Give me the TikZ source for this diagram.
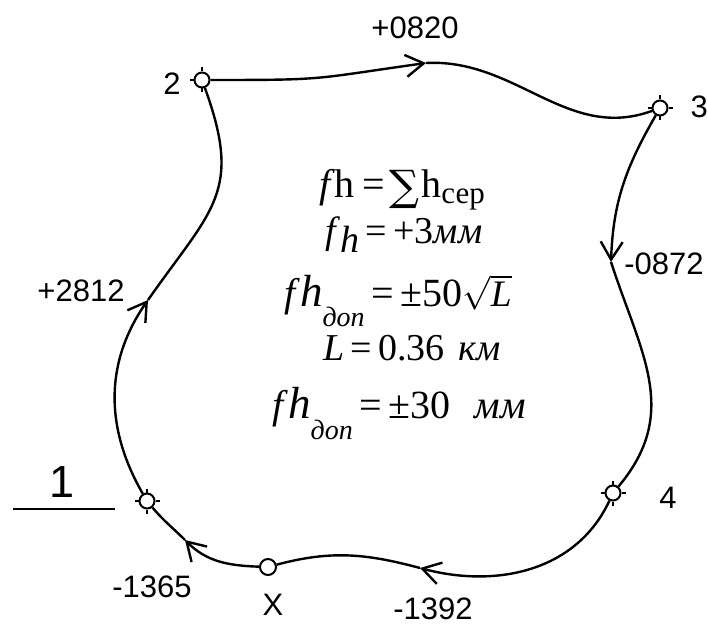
\documentclass[tikz,border=0pt]{standalone}
\usepackage{fontspec}
\setmainfont{Liberation Serif}
\newfontfamily\labfont{Liberation Sans}
\newfontfamily\sumfont{DejaVu Serif}
\usetikzlibrary{positioning, arrows.meta, calc}
\newcommand\lowsub[3][-7pt]{\raisebox{#1}{\fontsize{#2}{#2}\selectfont\itshape #3}}
\newcommand\ftop{\textit{f}}
\newcommand\bigh{{\fontsize{45}{45}\selectfont\itshape h}}
\newcommand\sumsign{\raisebox{-3pt}{\sumfont\fontsize{42}{42}\selectfont ∑}}
\newcommand\rootL{\scalebox{3.4}{\fontsize{10}{10}\selectfont$\sqrt{\mbox{\fontsize{11}{11}\selectfont\itshape L}}$}}
\tikzset{
  bench/.style = {circle, draw, line width=2pt, fill=white, minimum size=15pt, inner sep=0pt},
  tie/.style   = {circle, draw, line width=2pt, fill=white, minimum size=16pt, inner sep=0pt},
  leg/.style   = {line width=2.4pt},
  barb/.style  = {leg, -{Straight Barb[length=18pt, width=22pt]}},
  num/.style   = {font=\labfont\fontsize{31}{31}\selectfont, inner sep=0pt, anchor=base},
  fml/.style   = {font=\fontsize{38}{38}\selectfont, inner sep=0pt, anchor=base},
}

\begin{document}
\begin{tikzpicture}[x=1pt, y=1pt]
\useasboundingbox (0,0) rectangle (708,626);

% Stations
\node (s1) [bench] at (147,125) {};
\node (s2) [bench] at (202,546) {};
\node (s3) [bench] at (660,518) {};
\node (s4) [bench] at (613,133) {};
\node (sx) [tie]   at (268,59)  {};

% Points where the arrowheads sit
\coordinate (a23) at (426,563);
\coordinate (a34) at (611,364);
\coordinate (a4x) at (420,58);
\coordinate (ax1) at (185,86);
\coordinate (a12) at (148,326);

% Legs of the traverse
\draw [barb] (s2)  to[out=0,in=188,looseness=1.4] (a23);
\draw [leg]  (a23) to[out=3,in=200] (s3);
\draw [barb] (s3)  to[out=-120,in=88] (a34);
\draw [leg]  (a34) to[out=-72,in=50,looseness=1.1] (s4);
\draw [barb] (s4)  to[out=-115,in=-15] (a4x);
\draw [leg]  (a4x) to[out=165,in=15] (sx);
\draw [barb] (sx)  to[out=178,in=-45] (ax1);
\draw [leg]  (ax1) to[out=135,in=-50] (s1);
\draw [barb] (s1)  to[out=120,in=235] (a12);
\draw [leg]  (a12) to[out=55,in=-70,looseness=1.3] (s2);

% Ticks on the bench marks
\foreach \s in {s1,s2,s3,s4}
  \foreach \a in {0,90,180,270}
    \draw [line width=1.6pt] (\s.\a) -- ++(\a:4pt);

% Station names
\node (l1) [num, font=\labfont\fontsize{45}{45}\selectfont] at (62,129) {1};
\draw [leg] ($(l1.base)+(-49,-12)$) -- ++(102,0);
\node (l2) [num] at (172,531) {2};
\node (l3) [num, anchor=base east] at (708,508) {3};
\node (l4) [num] at (668,118) {4};
\node (lx) [num] at (273,11)  {X};

% Height differences
\node (h23) [num] at (415,587) {+0820};
\node (h34) [num] at (664,351) {-0872};
\node (h4x) [num] at (433,7)   {-1392};
\node (hx1) [num] at (152,29)  {-1365};
\node (h12) [num] at (81,324)  {+2812};

% Misclosure
\node (f1) [fml, font=\fontsize{40}{40}\selectfont] at (402,428)
  {\ftop h\hspace{8pt}=\hspace{4pt}\sumsign\hspace{2pt}h\lowsub[-6pt]{31}{\upshape сер}};
\node (f2) [fml] at (404,382) {\ftop\raisebox{-9pt}{\itshape h}\,=\,+3{\itshape мм}};
\node (f3) [fml, font=\fontsize{40}{40}\selectfont] at (398,319)
  {\ftop\bigh\lowsub[-20pt]{28}{доп}\,=\,±50\rootL};
\node (f4) [fml] at (412,265) {{\itshape L}\,=\,0.36\hspace{14pt}{\itshape км}};
\node (f5) [fml, font=\fontsize{40}{40}\selectfont] at (399,207)
  {\ftop\bigh\lowsub[-20pt]{28}{доп}\,=\,±30\hspace{24pt}{\itshape мм}};

\end{tikzpicture}
\end{document}
